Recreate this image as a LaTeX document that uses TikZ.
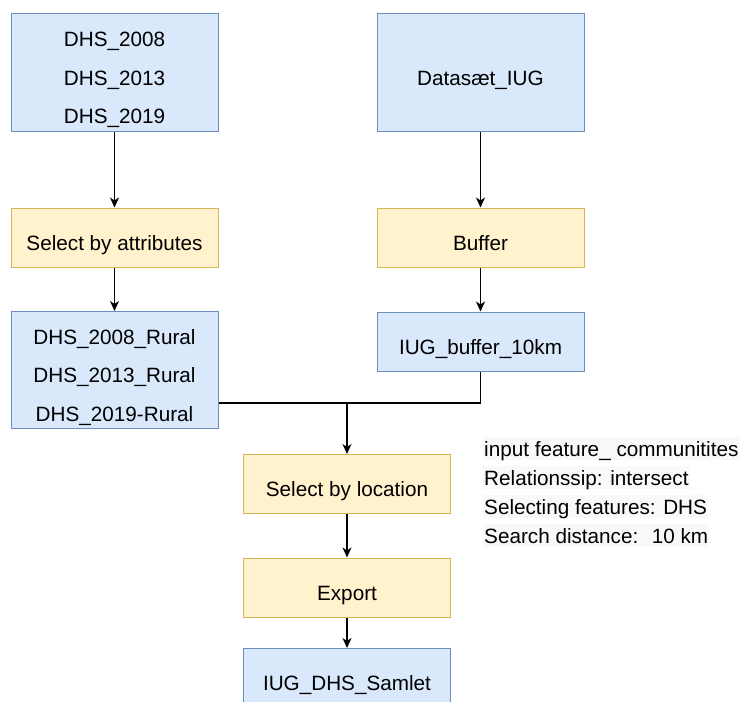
\documentclass[tikz,border=0pt]{standalone}
\usepackage{fontspec}
\setmainfont{Liberation Sans}
\usetikzlibrary{arrows.meta}
\definecolor{datafill}{HTML}{DAE8FC}
\definecolor{dataline}{HTML}{6C8EBF}
\definecolor{toolfill}{HTML}{FFF2CC}
\definecolor{toolline}{HTML}{D6B656}
\definecolor{notefill}{HTML}{F8F9FA}
\tikzset{
  box/.style={minimum width=207pt, minimum height=59pt, inner sep=0pt,
    line width=1pt, align=center, font=\fontsize{20.7}{38.5}\selectfont,
    text height=25.5pt, text depth=0pt},
  data/.style={box, draw=dataline, fill=datafill},
  tool/.style={box, draw=toolline, fill=toolfill},
  stack/.style={minimum height=117pt, text height=102.4pt},
  note/.style={anchor=base west, fill=notefill, inner xsep=1pt, inner ysep=0pt,
    text height=19pt, text depth=4pt, font=\fontsize{20.7}{24}\selectfont},
  flow/.style={line width=1.3pt, -{Stealth[length=10pt, width=9pt, inset=3pt]}}
}
\begin{document}
\begin{tikzpicture}[x=1pt, y=-1pt]
      \useasboundingbox (0,0) rectangle (741,701);
      \draw
        (114.5,72.5) node[data, stack] (dhs){DHS\_2008\\DHS\_2013\\DHS\_2019}
        (480.5,72.5) node[data, minimum height=117pt] (iug){Datasæt\_IUG}
        (114.5,237.5) node[tool] (attr){Select by attributes}
        (480.5,237.5) node[tool] (buffer){Buffer}
        (114.5,370) node[data, stack] (rural){DHS\_2008\_Rural\\DHS\_2013\_Rural\\DHS\_2019-Rural}
        (480.5,341.5) node[data] (iugbuf){IUG\_buffer\_10km}
        (347,484) node[tool] (location){Select by location}
        (347,587.5) node[tool] (export){Export}
        (347,678) node[data] (samlet){IUG\_DHS\_Samlet};
      \coordinate (join) at (347,403);
      % parameters of the location query
      \node[note] (input) at (483,456) {input feature\_ communitites};
      \node[note] (relation) at (483,485) {Relationssip: intersect};
      \node[note] (selecting) at (483,514) {Selecting features: DHS};
      \node[note] (distance) at (483,543) {Search distance:~ 10 km};
      \draw[line width=1.3pt] (iugbuf.south) |- (rural.east |- join);
      \begin{scope}[flow]
        \draw (dhs) to (attr);
        \draw (iug) to (buffer);
        \draw (attr) to (rural);
        \draw (buffer) to (iugbuf);
        \draw (join) to (location);
        \draw (location) to (export);
        \draw (export) to (samlet);
      \end{scope}
    \end{tikzpicture}
\end{document}
